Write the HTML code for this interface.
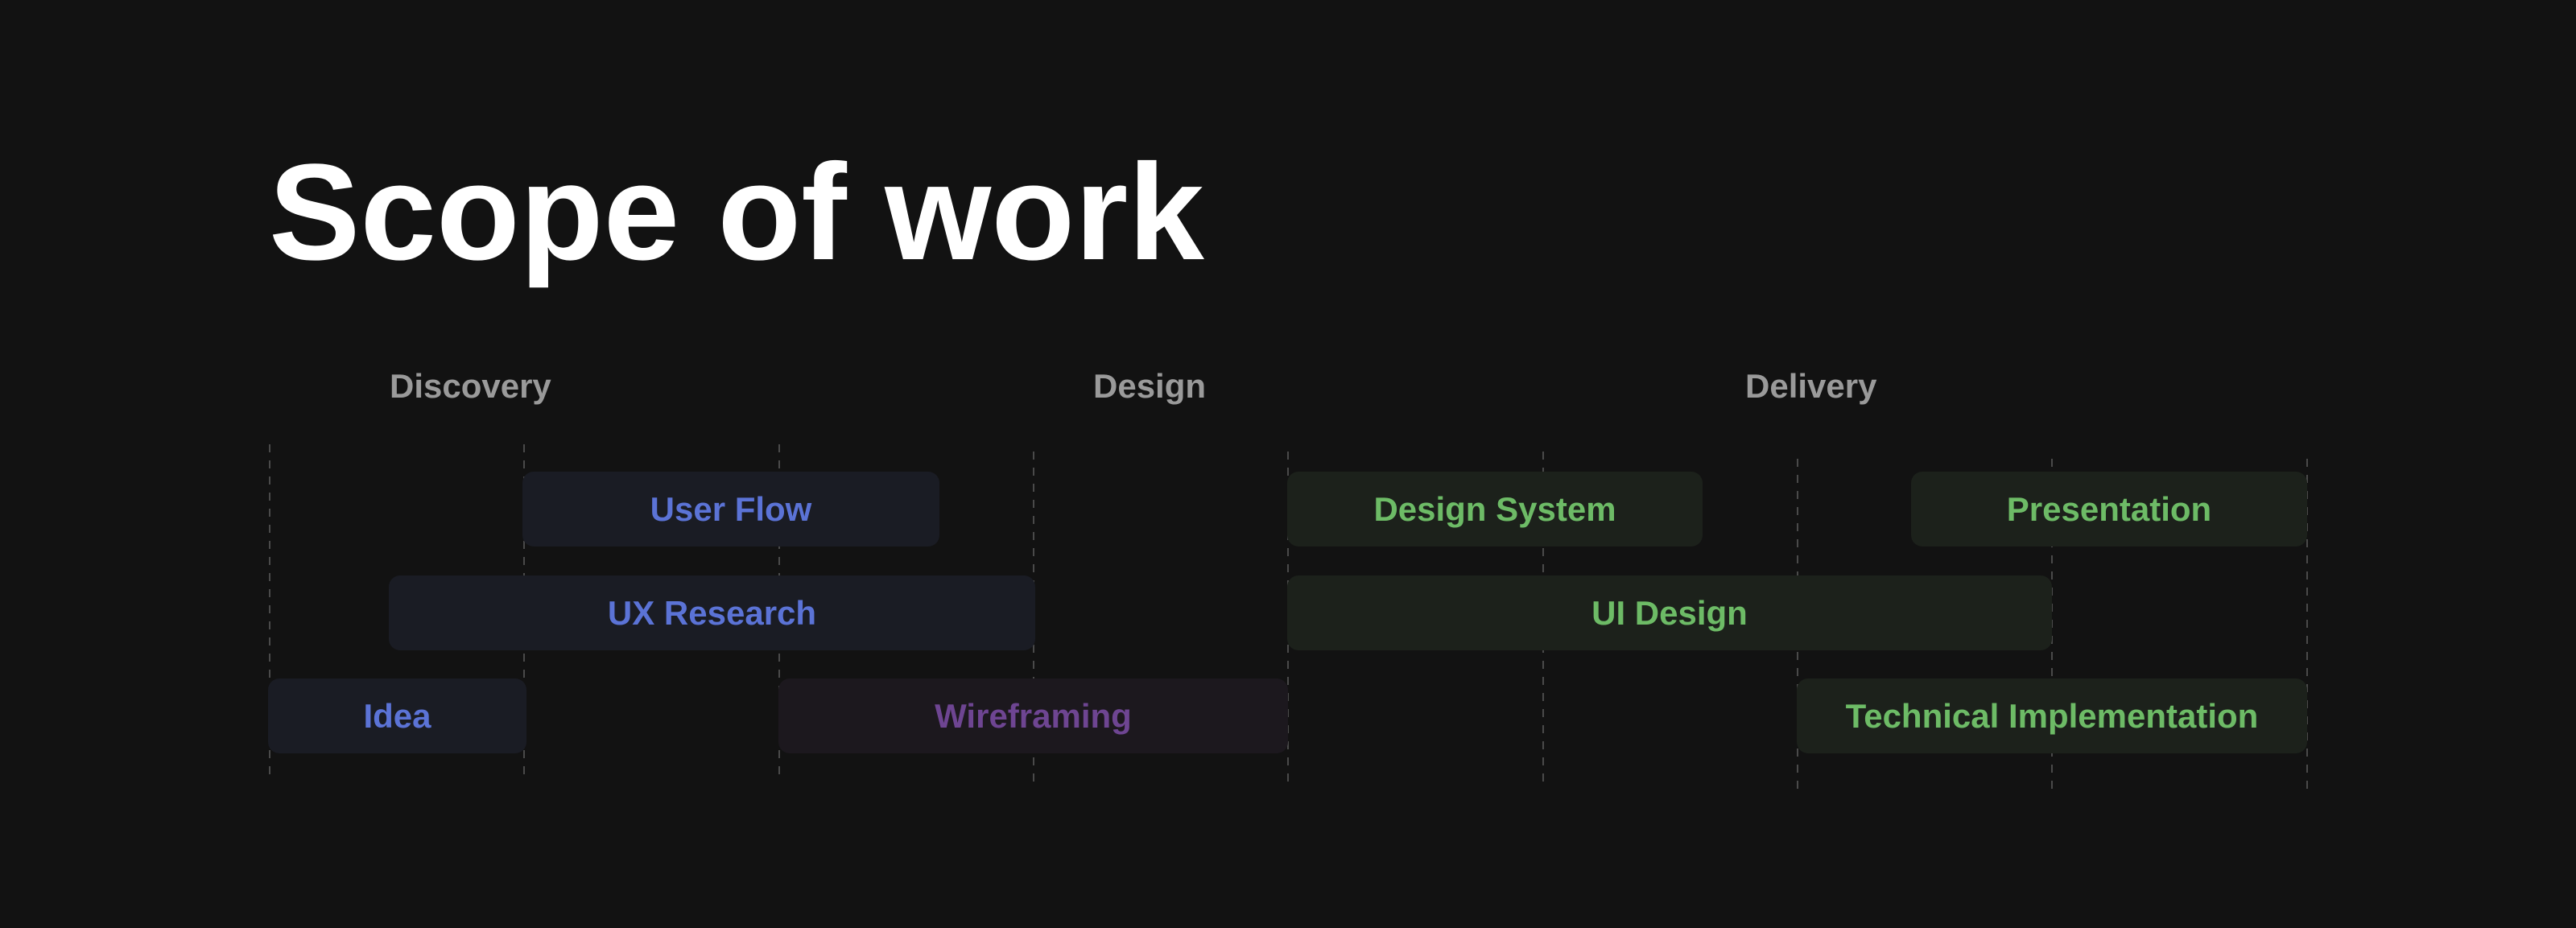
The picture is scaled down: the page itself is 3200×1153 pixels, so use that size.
<!DOCTYPE html>
<html><head><meta charset="utf-8"><style>
html,body{margin:0;padding:0;}
body{width:3200px;height:1153px;background:#121212;position:relative;overflow:hidden;font-family:"Liberation Sans",sans-serif;}
.t{position:absolute;left:334px;top:164px;font-size:170px;font-weight:bold;color:#fff;line-height:200px;white-space:nowrap;}
.p{position:absolute;font-size:42px;font-weight:bold;color:#9a9a9a;line-height:50px;white-space:nowrap;}
.l{position:absolute;width:2px;background:repeating-linear-gradient(to bottom,#4a4a4a 0 10px,transparent 10px 20px);}
.b{position:absolute;height:93px;border-radius:14px;font-size:42px;font-weight:bold;display:flex;align-items:center;justify-content:center;white-space:nowrap;}
.bl{background:#1a1c24;color:#5b73d6;}
.pu{background:#1c181e;color:#6e4592;}
.gr{background:#1c211b;color:#6dbb66;}
</style></head><body>
<div class="t">Scope of work</div>
<div class="p" style="left:484px;top:455px">Discovery</div>
<div class="p" style="left:1358px;top:455px">Design</div>
<div class="p" style="left:2168px;top:455px">Delivery</div>

<div class="l" style="left:334px;top:552px;height:417px"></div>
<div class="l" style="left:650px;top:552px;height:417px"></div>
<div class="l" style="left:967px;top:552px;height:417px"></div>
<div class="l" style="left:1283px;top:561px;height:417px"></div>
<div class="l" style="left:1599px;top:561px;height:417px"></div>
<div class="l" style="left:1916px;top:561px;height:417px"></div>
<div class="l" style="left:2232px;top:570px;height:416px"></div>
<div class="l" style="left:2548px;top:570px;height:416px"></div>
<div class="l" style="left:2865px;top:570px;height:416px"></div>

<div class="b bl" style="left:649px;top:586px;width:518px">User Flow</div>
<div class="b bl" style="left:483px;top:715px;width:803px">UX Research</div>
<div class="b bl" style="left:333px;top:843px;width:321px">Idea</div>
<div class="b pu" style="left:967px;top:843px;width:633px">Wireframing</div>
<div class="b gr" style="left:1599px;top:586px;width:516px">Design System</div>
<div class="b gr" style="left:2374px;top:586px;width:492px">Presentation</div>
<div class="b gr" style="left:1599px;top:715px;width:950px">UI Design</div>
<div class="b gr" style="left:2232px;top:843px;width:634px">Technical Implementation</div>
</body></html>
